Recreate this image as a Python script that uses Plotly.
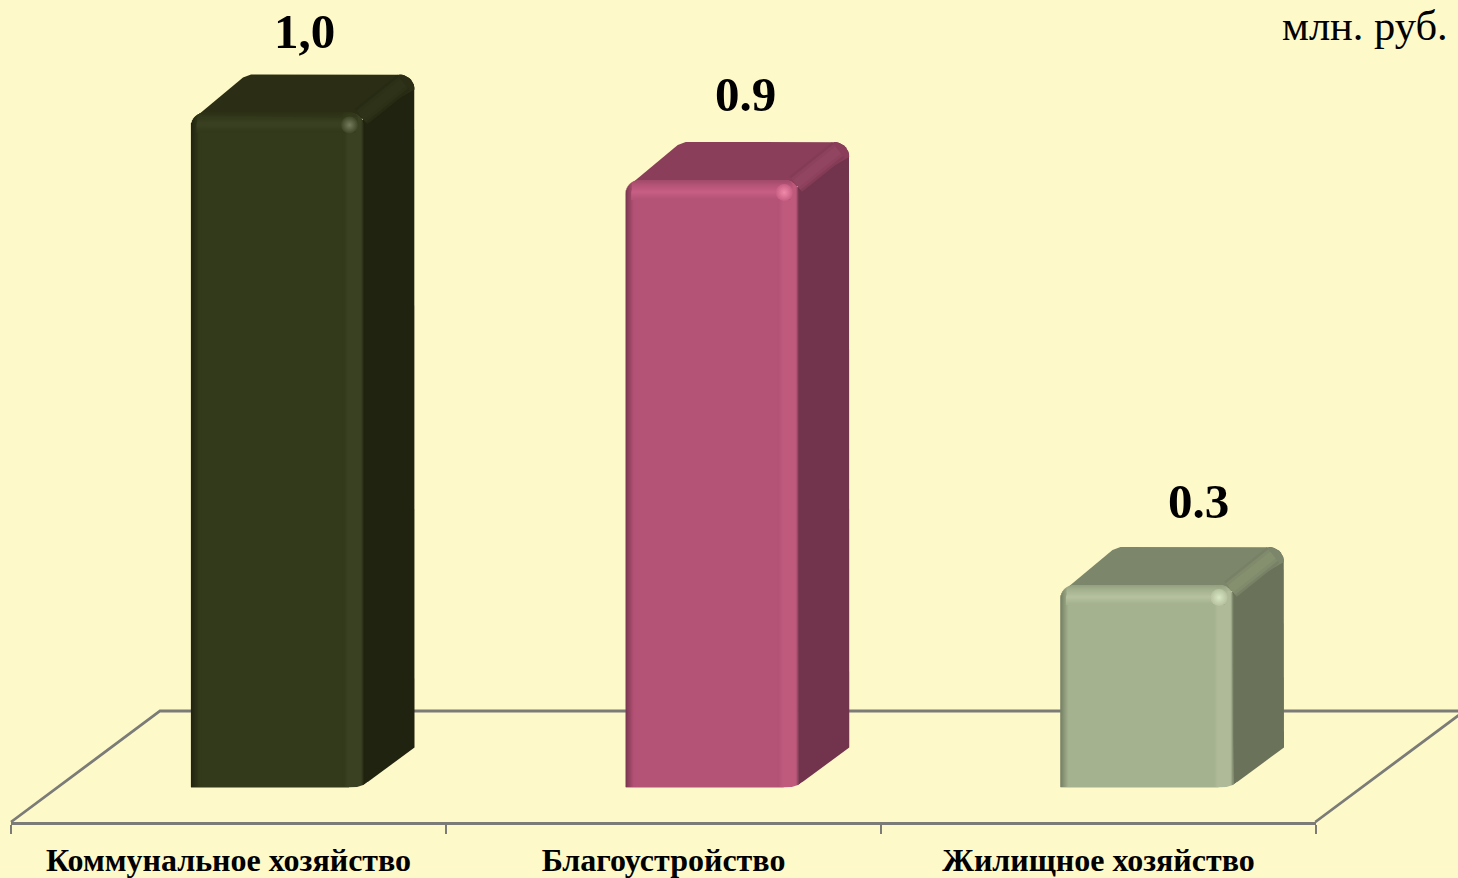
import numpy as np
import plotly.graph_objects as go

categories = ["Коммунальное хозяйство", "Благоустройство", "Жилищное хозяйство"]
values = [1.0, 0.9, 0.3]
value_labels = ["1,0", "0.9", "0.3"]
unit_label = "млн. руб."

W, H = 1458, 878
BG = "#FEF9C9"
GREY = "#7b7b78"
SERIF = "Liberation Serif, Times New Roman, serif"
STEP, SCALE = 434.75, 675.0      # px per category, px per unit
X0, Y0 = 277.5, 787.5            # px position of first bar centre / value zero
PX, PY = 1 / STEP, 1 / SCALE
BAR_W = 173 * PX
DX, DY = 50.5 * PX, 38 * PY
R = 14
FRONT = ["#33391b", "#b45375", "#a5b28f"]
TOP = ["#2b2e15", "#8a3e59", "#7c866b"]
SIDE = ["#20230f", "#72344c", "#6a7359"]
RIDGE = ["#2f3318", "#944662", "#87926f"]
HILITE = ["#3e4426", "#c75e83", "#b5c19f"]
SPOT = ["#767c5e", "#f08aaa", "#dbe8c4"]
LABEL_SHIFT_X = [27, 33, 51]
LABEL_SHIFT_Y = [43, 48, 46]


def rgb(h):
    return np.array([int(h[i:i + 2], 16) for i in (1, 3, 5)], float)


def mix(a, b, t):
    t = float(np.clip(t, 0, 1))
    c = rgb(a) * (1 - t) + rgb(b) * t
    return "#%02x%02x%02x" % tuple(int(round(v)) for v in c)


fig = go.Figure()

# floor behind the bars, on the lowest subplot
floor_front, floor_back = -34.5 * PY, 76.5 * PY
left_edge, right_edge = -0.5 + (11 + 217.4 - X0) * PX, 2.5 + (11 + 217.4 - X0) * PX
floor_dx = 149 * PX
fig.add_trace(go.Scatter(
    x=[left_edge, left_edge + floor_dx, right_edge + floor_dx, right_edge],
    y=[floor_front, floor_back, floor_back, floor_front],
    mode="lines", line=dict(color=GREY, width=2.8), hoverinfo="skip",
    showlegend=False, xaxis="x", yaxis="y"))

# category axis: ticks at the boundaries, labels in the middle
fig.add_trace(go.Scatter(x=categories, y=values, mode="markers", marker=dict(opacity=0),
                         hoverinfo="skip", showlegend=False, xaxis="x3", yaxis="y3"))

# front faces as real bars
fig.add_trace(go.Bar(x=list(range(len(values))), y=values, width=BAR_W,
                     marker=dict(color=FRONT, line=dict(width=0), cornerradius=R),
                     hoverinfo="skip", showlegend=False, xaxis="x2", yaxis="y2"))


def add_poly(xs, ys, color):
    fig.add_trace(go.Scatter(x=xs, y=ys, mode="lines", fill="toself", fillcolor=color,
                             line=dict(width=0, color=color), hoverinfo="skip",
                             showlegend=False, xaxis="x2", yaxis="y2"))


def add_line(xs, ys, color, width):
    fig.add_trace(go.Scatter(x=xs, y=ys, mode="lines", line=dict(color=color, width=width),
                             hoverinfo="skip", showlegend=False, xaxis="x2", yaxis="y2"))


def inset(d, r=R):
    """How far a strip d px inside the edge stops short of the rounded corner."""
    return r - np.sqrt(max(r ** 2 - (r - d) ** 2, 0)) if d < r else 0.0


for i, v in enumerate(values):
    left, right = i - BAR_W / 2, i + BAR_W / 2
    f, t, s, rd, hi, sp = FRONT[i], TOP[i], SIDE[i], RIDGE[i], HILITE[i], SPOT[i]
    bx, by = right + DX, v + DY
    ang = np.linspace(0, np.pi / 2, 10)
    rr = 15
    arc_x = bx - rr * PX + rr * PX * np.cos(ang)
    arc_y = by - rr * PY + rr * PY * np.sin(ang)

    # side face
    add_poly([right - 2 * PX, right, bx, *arc_x, right - 2 * PX],
             [v - 8 * PY, 2.7 * PY, 40 * PY, *arc_y, v - 8 * PY], s)
    # top face, with a soft fold down towards the side face
    add_poly([left + 7 * PX, left + 52 * PX, left + 60 * PX, *arc_x[::-1], right],
             [v - 2.5 * PY, by - 3 * PY, by, *arc_y[::-1], v - 6 * PY], t)
    # ridge between top and side
    rx, ry = [right - 3 * PX, bx - 11 * PX], [v - 4 * PY, by - 8 * PY]
    add_line(rx, ry, mix(s, t, 0.75), 20)
    add_line(rx, ry, mix(t, rd, 0.35), 15)
    add_line(rx, ry, mix(t, rd, 0.85), 9)

    # bevel: left edge
    for d in np.arange(0.5, 10, 1.0):
        add_line([left + d * PX] * 2, [0.5 * PY, v - inset(d) * PY], mix(s, f, d / 8), 1.2)
    # bevel: right edge
    band = mix(f, hi, 0.7)
    for e in np.arange(0.5, 21, 1.0):
        if e < 3:
            col = mix(s, band, e / 3)
        elif e < 16:
            col = band
        else:
            col = mix(band, f, (e - 16) / 4)
        add_line([right - e * PX] * 2, [0.5 * PY, v - inset(e) * PY], col, 1.2)
    # bevel: top edge
    for e in np.arange(0.5, 20, 1.0):
        if e < 5:
            col = mix(mix(f, s, 0.3), f, e / 5)
        elif e < 12:
            col = mix(f, hi, (e - 5) / 7)
        else:
            col = mix(hi, f, (e - 12) / 7)
        a = inset(e)
        add_line([left + a * PX + min(e, 9) * 0.6 * PX, right - a * PX - min(e, 14) * 0.6 * PX],
                 [v - e * PY] * 2, col, 1.2)
    # corner glint
    fig.add_trace(go.Scatter(
        x=[right - 14.5 * PX], y=[v - 12.5 * PY], mode="markers",
        marker=dict(size=17, color=hi, line=dict(width=0),
                    gradient=dict(type="radial", color=sp)),
        hoverinfo="skip", showlegend=False, xaxis="x2", yaxis="y2"))
    # rounded foot of the front right corner
    add_poly([right - 15 * PX, right - 7 * PX, right, right + 4 * PX, right + 4 * PX, right - 15 * PX],
             [0, 0.6 * PY, 2.7 * PY, 5.7 * PY, -2 * PY, -2 * PY], BG)

annotations = [
    dict(xref="x2", yref="y2", x=i, y=v + DY, text="<b>%s</b>" % lab, showarrow=False,
         xshift=LABEL_SHIFT_X[i], yshift=LABEL_SHIFT_Y[i], xanchor="center", yanchor="middle",
         font=dict(family=SERIF, size=49, color="#000000"))
    for i, (v, lab) in enumerate(zip(values, value_labels))
]
annotations.append(dict(xref="paper", yref="paper", x=1450 / W, y=1 - 25.5 / H, text=unit_label,
                        showarrow=False, xanchor="right", yanchor="middle",
                        font=dict(family=SERIF, size=42.5, color="#000000")))

xr = [-X0 / STEP, (W - X0) / STEP]
yr = [-(H - Y0) / SCALE, Y0 / SCALE]
hidden = dict(visible=False, showgrid=False, zeroline=False, fixedrange=True)
fig.update_layout(
    width=W, height=H, autosize=False,
    margin=dict(l=0, r=0, t=0, b=0),
    paper_bgcolor=BG, plot_bgcolor="rgba(0,0,0,0)",
    showlegend=False, barmode="overlay",
    annotations=annotations,
    xaxis=dict(range=xr, domain=[0, 1], anchor="y", **hidden),
    yaxis=dict(range=yr, domain=[0, 1], anchor="x", **hidden),
    xaxis2=dict(range=xr, overlaying="x", anchor="y2", **hidden),
    yaxis2=dict(range=yr, overlaying="y", anchor="x2", **hidden),
    xaxis3=dict(domain=[11 / W, 1316 / W], anchor="y3", type="category", tickson="boundaries",
                categoryorder="array", categoryarray=categories, range=[-0.5, 2.5],
                showline=True, linecolor=GREY, linewidth=2.8, ticks="outside", ticklen=9,
                tickwidth=2, tickcolor=GREY, showgrid=False, zeroline=False, fixedrange=True,
                tickfont=dict(family=SERIF, size=32, color="#000000"), tickprefix="<b>",
                ticksuffix="</b>", ticklabelstandoff=8),
    yaxis3=dict(domain=[1 - 822 / H, 1 - 800 / H], anchor="x3", **hidden),
)
fig.write_html("out.html", config=dict(displayModeBar=False),
               post_script="document.body.style.margin='0';document.body.style.background='%s';"
                           "document.documentElement.style.overflow='hidden';" % BG)
